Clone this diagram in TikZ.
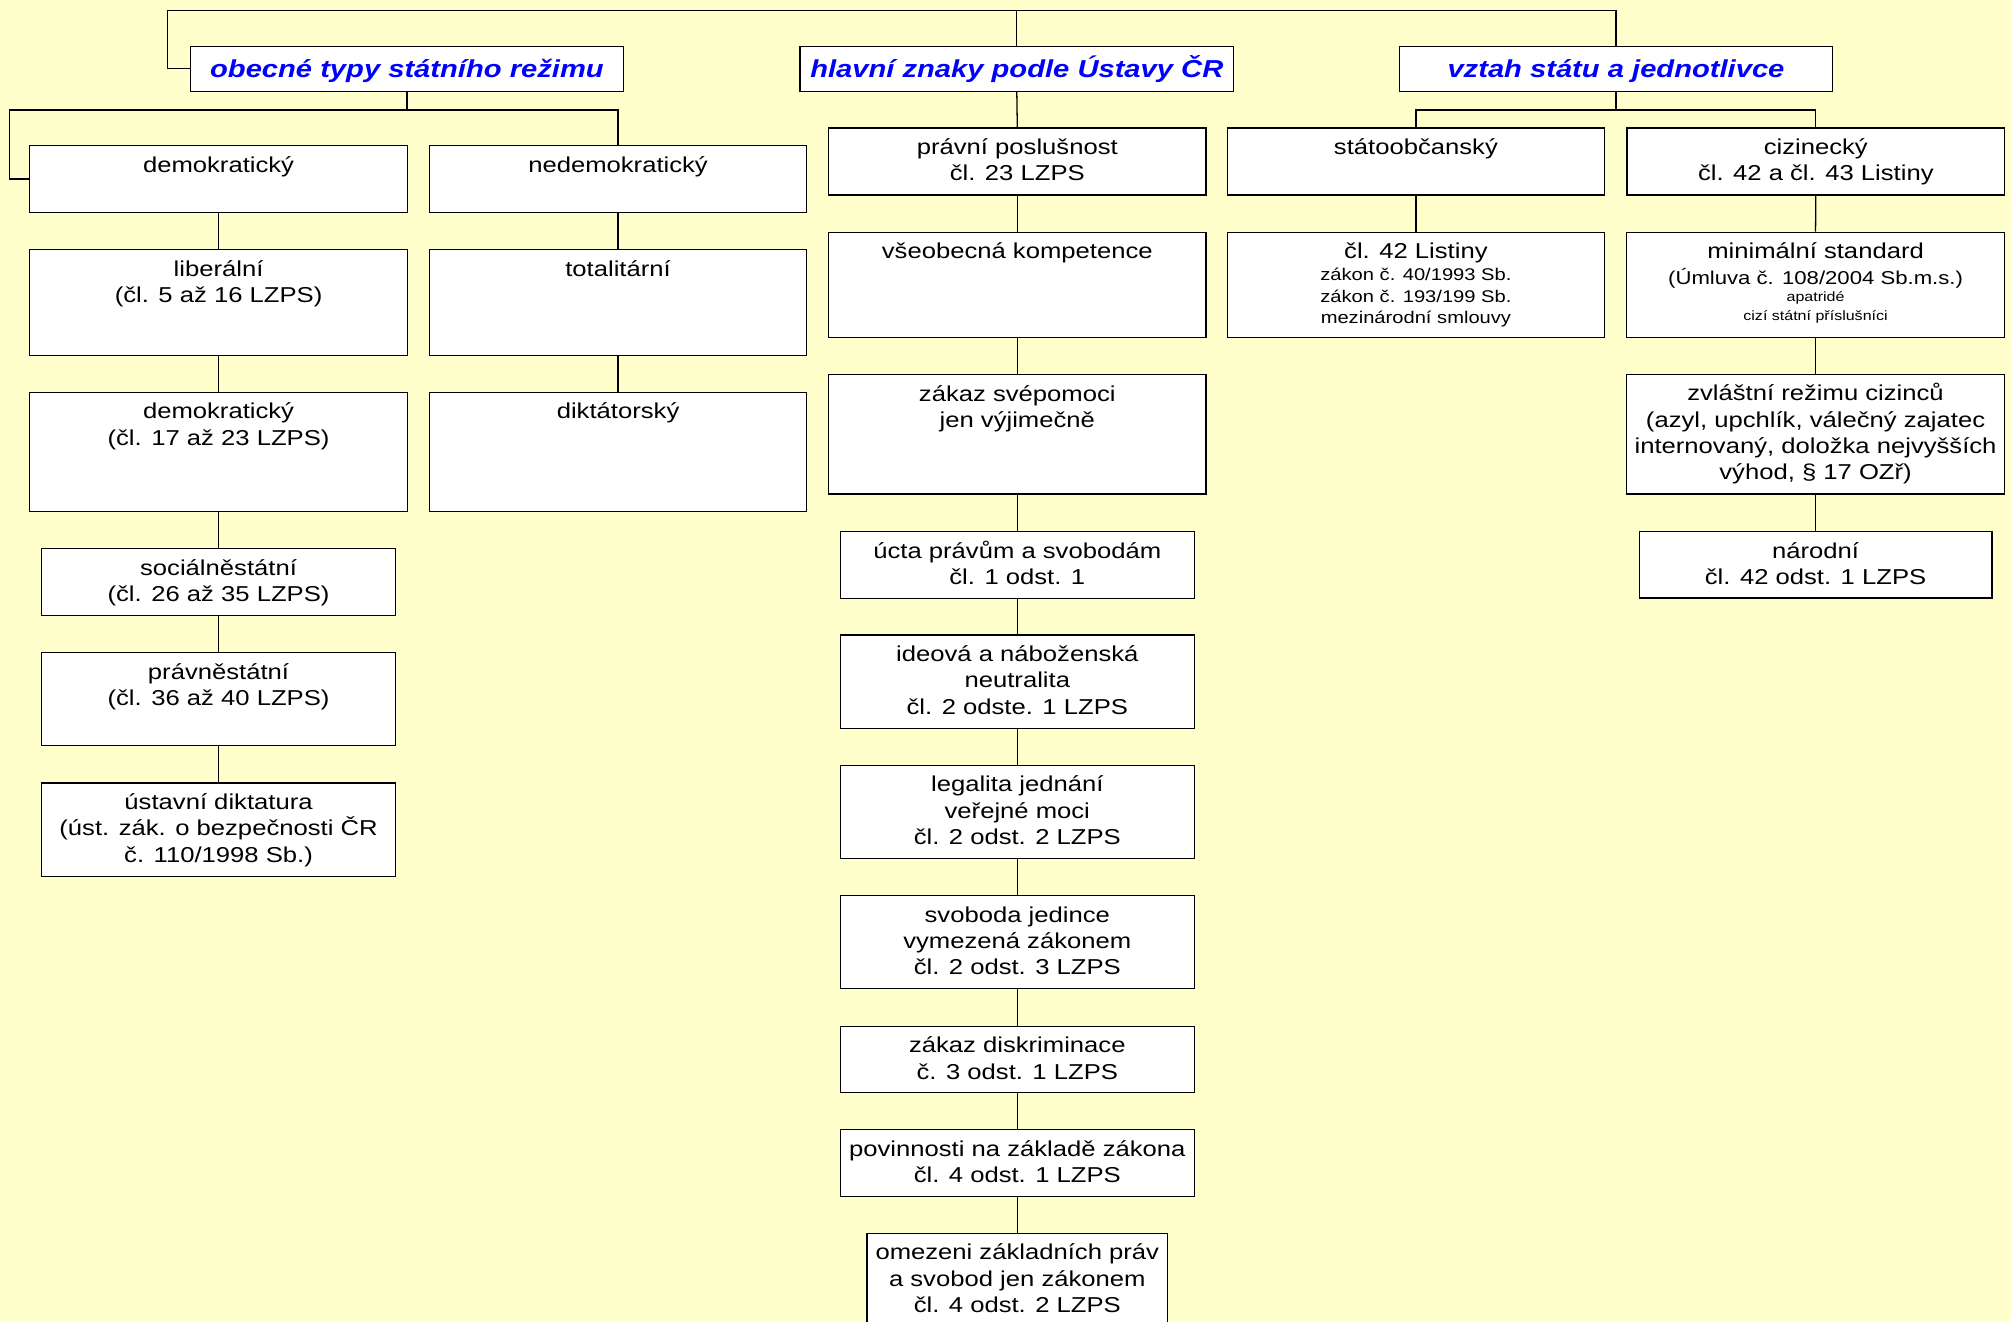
\documentclass[tikz,border=0pt]{standalone}
\usepackage{fontspec}
\setmainfont{Liberation Sans}[FakeStretch=1.19]
\definecolor{bgyellow}{HTML}{FFFFCC}
\definecolor{ttlblue}{HTML}{0000FF}
\newcommand{\firstln}{\rule{0pt}{17pt}}
\newcommand{\szS}{\fontsize{13.2}{16}\selectfont}
\newcommand{\szM}{\fontsize{14.5}{17}\selectfont}
\newcommand{\szT}{\fontsize{10.5}{13}\selectfont}
\tikzset{
  box/.style={draw=black, line width=1pt, fill=white, rectangle, inner sep=0pt, anchor=north, minimum width=294.3pt},
  boxn/.style={box, minimum width=276pt},
  lbl/.style={anchor=north, inner sep=0pt, align=center, font=\fontsize{16.8}{20.5}\selectfont},
  ttl/.style={box, minimum width=338pt, minimum height=35.1pt, text height=18pt, text depth=3.7pt,
    font=\fontsize{19.1}{22}\selectfont\bfseries\itshape, text=ttlblue},
  conn/.style={draw=black, line width=1pt},
}
\begin{document}
\begin{tikzpicture}[x=1pt,y=-1pt]
\fill[bgyellow] (0,0) rectangle (1568,1030);
\useasboundingbox (0,0) rectangle (1568,1030);
\clip (0,0) rectangle (1568,1030);

% titles
\node[ttl] (ob) at (317.3,35.6) {obecné typy státního režimu};
\node[ttl] (hl) at (792.8,35.6) {hlavní znaky podle Ústavy ČR};
\node[ttl] (vz) at (1260,35.6) {vztah státu a jednotlivce};

% left column
\node[box, minimum height=52.3pt] (demo) at (170.4,113) {};
\node[lbl] (demo-t) at ([yshift=-4pt]demo.north) {\firstln demokratický};
\node[box, minimum height=52.3pt] (ned) at (481.9,113) {};
\node[lbl] (ned-t) at ([yshift=-4pt]ned.north) {\firstln nedemokratický};
\node[box, minimum height=82.3pt] (lib) at (170.4,194.2) {};
\node[lbl] (lib-t) at ([yshift=-4pt]lib.north) {\firstln liberální\\(čl. 5 až 16 LZPS)};
\node[box, minimum height=82.3pt] (tot) at (481.9,194.2) {};
\node[lbl] (tot-t) at ([yshift=-4pt]tot.north) {\firstln totalitární};
\node[box, minimum height=93pt] (demob) at (170.4,305.4) {};
\node[lbl] (demob-t) at ([yshift=-4pt]demob.north) {\firstln demokratický\\(čl. 17 až 23 LZPS)};
\node[box, minimum height=93pt] (dik) at (481.9,305.4) {};
\node[lbl] (dik-t) at ([yshift=-4pt]dik.north) {\firstln diktátorský};
\node[boxn, minimum height=52.2pt] (soc) at (170.4,427.3) {};
\node[lbl] (soc-t) at ([yshift=-4pt]soc.north) {\firstln sociálněstátní\\(čl. 26 až 35 LZPS)};
\node[boxn, minimum height=72.5pt] (prav) at (170.4,508.4) {};
\node[lbl] (prav-t) at ([yshift=-4pt]prav.north) {\firstln právněstátní\\(čl. 36 až 40 LZPS)};
\node[boxn, minimum height=72.8pt] (ust) at (170.4,610) {};
\node[lbl] (ust-t) at ([yshift=-4pt]ust.north) {\firstln ústavní diktatura\\(úst. zák. o bezpečnosti ČR\\č. 110/1998 Sb.)};

% middle column
\node[box, minimum height=52.2pt] (pp) at (793.2,99.3) {};
\node[lbl] (pp-t) at ([yshift=-4pt]pp.north) {\firstln právní poslušnost\\čl. 23 LZPS};
\node[box, minimum height=81.9pt] (vk) at (793.2,180.6) {};
\node[lbl] (vk-t) at ([yshift=-4pt]vk.north) {\firstln všeobecná kompetence};
\node[box, minimum height=93.1pt] (zs) at (793.2,291.6) {};
\node[lbl] (zs-t) at ([yshift=-4pt]zs.north) {\firstln zákaz svépomoci\\jen výjimečně};
\node[boxn, minimum height=52pt] (uc) at (793.2,414) {};
\node[lbl] (uc-t) at ([yshift=-4pt]uc.north) {\firstln úcta právům a svobodám\\čl. 1 odst. 1};
\node[boxn, minimum height=72.8pt] (id) at (793.2,494.6) {};
\node[lbl] (id-t) at ([yshift=-4pt]id.north) {\firstln ideová a náboženská\\neutralita\\čl. 2 odste. 1 LZPS};
\node[boxn, minimum height=72.6pt] (le) at (793.2,596.2) {};
\node[lbl] (le-t) at ([yshift=-4pt]le.north) {\firstln legalita jednání\\veřejné moci\\čl. 2 odst. 2 LZPS};
\node[boxn, minimum height=72.5pt] (sv) at (793.2,697.9) {};
\node[lbl] (sv-t) at ([yshift=-4pt]sv.north) {\firstln svoboda jedince\\vymezená zákonem\\čl. 2 odst. 3 LZPS};
\node[boxn, minimum height=51.8pt] (zd) at (793.2,799.7) {};
\node[lbl] (zd-t) at ([yshift=-4pt]zd.north) {\firstln zákaz diskriminace\\č. 3 odst. 1 LZPS};
\node[boxn, minimum height=52.3pt] (po) at (793.2,880.3) {};
\node[lbl] (po-t) at ([yshift=-4pt]po.north) {\firstln povinnosti na základě zákona\\čl. 4 odst. 1 LZPS};
\node[box, minimum width=234.5pt, minimum height=75pt] (om) at (793.2,961.2) {};
\node[lbl] (om-t) at ([yshift=-4pt]om.north) {\firstln omezeni základních práv\\a svobod jen zákonem\\čl. 4 odst. 2 LZPS};

% right section
\node[box, minimum height=52.2pt] (sto) at (1104,99.3) {};
\node[lbl] (sto-t) at ([yshift=-4pt]sto.north) {\firstln státoobčanský};
\node[box, minimum height=52.2pt] (ciz) at (1415.8,99.3) {};
\node[lbl] (ciz-t) at ([yshift=-4pt]ciz.north) {\firstln cizinecký\\čl. 42 a čl. 43 Listiny};
\node[box, minimum height=82.2pt] (cl) at (1104,180.6) {};
\node[lbl] (cl-t) at ([yshift=-4pt]cl.north) {\firstln čl. 42 Listiny\\[-3.3pt]{\szS zákon č. 40/1993 Sb.}\\[-4pt]{\szS zákon č. 193/199 Sb.}\\[-4pt]{\szS mezinárodní smlouvy}};
\node[box, minimum height=82.2pt] (mins) at (1415.6,180.6) {};
\node[lbl] (mins-t) at ([yshift=-4pt]mins.north) {\firstln minimální standard\\[-0.3pt]{\szM (Úmluva č. 108/2004 Sb.m.s.)}\\[-7.8pt]{\szT apatridé}\\[-5.4pt]{\szT cizí státní příslušníci}};
\node[box, minimum height=93.3pt] (zvl) at (1415.6,291.4) {};
\node[lbl] (zvl-t) at ([yshift=-4pt]zvl.north) {\firstln zvláštní režimu cizinců\\(azyl, upchlík, válečný zajatec\\internovaný, doložka nejvyšších\\výhod, § 17 OZř)};
\node[boxn, minimum width=275pt, minimum height=51.8pt] (nar) at (1415.6,414) {};
\node[lbl] (nar-t) at ([yshift=-4pt]nar.north) {\firstln národní\\čl. 42 odst. 1 LZPS};

% connectors
\coordinate (topbar) at (792.8,8);
\draw[conn] (ob.west) -- ++(-17,0) |- (topbar) -| (vz.north);
\draw[conn] (topbar) -- (hl.north);
\draw[conn] (ob.south) -- ++(0,14) coordinate (obj) -| (ned.north);
\draw[conn] (obj) -| ([xshift=-15.6pt]demo.west) -- (demo.west);
\draw[conn] (hl.south) -- (pp.north);
\draw[conn] (vz.south) -- ++(0,14) coordinate (vzj) -| (sto.north);
\draw[conn] (vzj) -| (ciz.north);

\draw[conn] (demo.south) -- (lib.north);
\draw[conn] (lib.south) -- (demob.north);
\draw[conn] (demob.south) -- (soc.north);
\draw[conn] (soc.south) -- (prav.north);
\draw[conn] (prav.south) -- (ust.north);
\draw[conn] (ned.south) -- (tot.north);
\draw[conn] (tot.south) -- (dik.north);

\draw[conn] (pp.south) -- (vk.north);
\draw[conn] (vk.south) -- (zs.north);
\draw[conn] (zs.south) -- (uc.north);
\draw[conn] (uc.south) -- (id.north);
\draw[conn] (id.south) -- (le.north);
\draw[conn] (le.south) -- (sv.north);
\draw[conn] (sv.south) -- (zd.north);
\draw[conn] (zd.south) -- (po.north);
\draw[conn] (po.south) -- (om.north);

\draw[conn] (sto.south) -- (cl.north);
\draw[conn] (ciz.south) -- (mins.north);
\draw[conn] (mins.south) -- (zvl.north);
\draw[conn] (zvl.south) -- (nar.north);
\end{tikzpicture}
\end{document}
